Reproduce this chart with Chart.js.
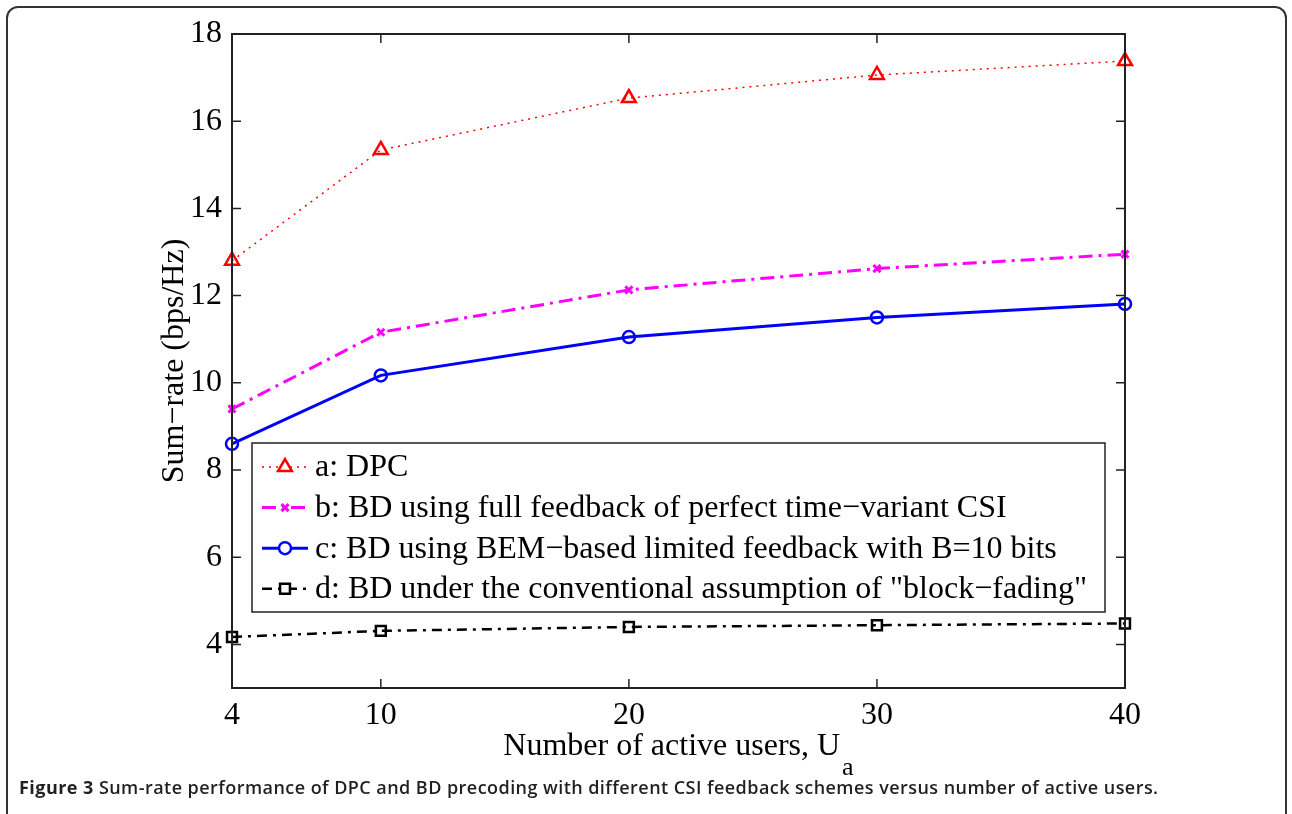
<!DOCTYPE html>
<html>
<head>
<meta charset="utf-8">
<script src="https://cdn.jsdelivr.net/npm/chart.js@4.4.0/dist/chart.umd.min.js"></script>
<style>
  html, body { margin: 0; padding: 0; background: #fff; overflow: hidden; }
  #wrap { position: absolute; left: 0; top: 0; width: 1292px; height: 814px; }
  #frame {
    position: absolute; left: 6px; top: 6px; width: 1281px; height: 820px;
    border: 2px solid #333; border-radius: 12px; box-sizing: border-box;
  }
  #caption {
    position: absolute; left: 19px; top: 775px; white-space: nowrap; line-height: 24px;
    font-family: "Open Sans", sans-serif; font-size: 18px; font-weight: 600; color: #231f20;
    letter-spacing: 0.45px;
  }
  #caption b { font-weight: 700; }
</style>
</head>
<body>
<div id="wrap">
  <canvas id="sumrate" width="1292" height="814"></canvas>
  <div id="frame"></div>
  <div id="caption"><b>Figure 3</b> Sum-rate performance of DPC and BD precoding with different CSI feedback schemes versus number of active users.</div>
</div>
<script>
// data
var users = [4, 10, 20, 30, 40];
var dpc = [12.8, 15.34, 16.53, 17.06, 17.38];
var bdFull = [9.4, 11.16, 12.13, 12.62, 12.95];
var bdBem = [8.6, 10.17, 11.05, 11.5, 11.81];
var bdBlock = [4.17, 4.31, 4.4, 4.44, 4.48];
var xTicks = [4, 10, 20, 30, 40];
var yTicks = [4, 6, 8, 10, 12, 14, 16, 18];
var labels = [
    'a: DPC',
    'b: BD using full feedback of perfect time\u2212variant CSI',
    'c: BD using BEM\u2212based limited feedback with B=10 bits',
    'd: BD under the conventional assumption of "block\u2212fading"'
];

var serif = '"Liberation Serif", "Times New Roman", serif';

function pts(ys) {
    return users.map(function(u, i) { return { x: u, y: ys[i] }; });
}

var datasets = [
    { label: labels[0], data: pts(dpc), borderColor: '#ff0000', borderWidth: 1.5, borderDash: [2, 5],
      pointStyle: 'triangle', pointRadius: 8, pointBorderWidth: 2.5 },
    { label: labels[1], data: pts(bdFull), borderColor: '#ff00ff', borderWidth: 3, borderDash: [14, 6, 3, 6],
      pointStyle: 'crossRot', pointRadius: 5, pointBorderWidth: 3 },
    { label: labels[2], data: pts(bdBem), borderColor: '#0000ff', borderWidth: 3,
      pointStyle: 'circle', pointRadius: 6, pointBorderWidth: 2.5 },
    { label: labels[3], data: pts(bdBlock), borderColor: '#000000', borderWidth: 2.5, borderDash: [10, 6, 3, 6],
      pointStyle: 'rect', pointRadius: 7, pointBorderWidth: 2.5 }
];
datasets.forEach(function(d) {
    d.backgroundColor = 'rgba(0,0,0,0)';
    d.pointBackgroundColor = 'rgba(255,255,255,0)';
    d.pointBorderColor = d.borderColor;
    d.fill = false;
    d.tension = 0;
    d.clip = false;
});

// box, inward ticks, axis titles and legend
var matlabLook = {
    id: 'matlabLook',
    afterDraw: function(chart) {
        var ctx = chart.ctx;
        var a = chart.chartArea;
        var xs = chart.scales.x, ys = chart.scales.y;
        ctx.save();
        ctx.strokeStyle = '#222';
        ctx.lineWidth = 2;
        ctx.strokeRect(a.left, a.top, a.right - a.left, a.bottom - a.top);
        ctx.lineWidth = 1.5;
        ctx.beginPath();
        xTicks.forEach(function(v) {
            var px = xs.getPixelForValue(v);
            ctx.moveTo(px, a.bottom); ctx.lineTo(px, a.bottom - 9);
            ctx.moveTo(px, a.top); ctx.lineTo(px, a.top + 9);
        });
        yTicks.forEach(function(v) {
            var py = ys.getPixelForValue(v);
            ctx.moveTo(a.left, py); ctx.lineTo(a.left + 9, py);
            ctx.moveTo(a.right, py); ctx.lineTo(a.right - 9, py);
        });
        ctx.stroke();

        // axis titles
        ctx.fillStyle = '#000';
        ctx.font = '32px ' + serif;
        ctx.textBaseline = 'alphabetic';
        var main = 'Number of active users, U';
        var wMain = ctx.measureText(main).width;
        ctx.font = '26px ' + serif;
        var wSub = ctx.measureText('a').width;
        var x0 = (a.left + a.right) / 2 - (wMain + wSub + 2) / 2;
        ctx.font = '32px ' + serif;
        ctx.textAlign = 'left';
        ctx.fillText(main, x0, 755);
        ctx.font = '26px ' + serif;
        ctx.fillText('a', x0 + wMain + 2, 775);

        ctx.font = '32px ' + serif;
        ctx.translate(183, (a.top + a.bottom) / 2);
        ctx.rotate(-Math.PI / 2);
        ctx.textAlign = 'center';
        ctx.fillText('Sum\u2212rate (bps/Hz)', 0, 0);
        ctx.restore();

        // legend box inside the axes
        ctx.save();
        var lx = a.left + 20, ly = 443, lw = 853, lh = 169;
        ctx.fillStyle = '#fff';
        ctx.fillRect(lx, ly, lw, lh);
        ctx.strokeStyle = '#222';
        ctx.lineWidth = 1.5;
        ctx.strokeRect(lx, ly, lw, lh);
        chart.data.datasets.forEach(function(d, i) {
            var cy = ly + 24 + i * 40.6;
            ctx.save();
            ctx.strokeStyle = d.borderColor;
            ctx.lineWidth = d.borderWidth;
            ctx.setLineDash(d.borderDash || []);
            ctx.beginPath();
            ctx.moveTo(lx + 10, cy);
            ctx.lineTo(lx + 56, cy);
            ctx.stroke();
            ctx.setLineDash([]);
            ctx.lineWidth = d.pointBorderWidth;
            ctx.fillStyle = '#fff';
            Chart.helpers.drawPoint(ctx, {
                pointStyle: d.pointStyle, radius: d.pointRadius, rotation: 0, borderWidth: d.pointBorderWidth
            }, lx + 33, cy);
            ctx.restore();
            ctx.fillStyle = '#000';
            ctx.font = '32px ' + serif;
            ctx.textAlign = 'left';
            ctx.textBaseline = 'middle';
            ctx.fillText(d.label, lx + 63, cy + 1);
        });
        ctx.restore();
    }
};

new Chart(document.getElementById('sumrate').getContext('2d'), {
    type: 'line',
    data: { datasets: datasets },
    options: {
        responsive: false,
        animation: false,
        layout: { padding: { left: 0, top: 34, right: 167, bottom: 0 } },
        plugins: { legend: { display: false }, tooltip: { enabled: false } },
        scales: {
            x: {
                type: 'linear', min: 4, max: 40,
                afterBuildTicks: function(s) { s.ticks = xTicks.map(function(v) { return { value: v }; }); },
                afterFit: function(s) { s.height = 126; },
                grid: { display: false, drawTicks: false },
                border: { display: false },
                ticks: { color: '#000', padding: 8, font: { family: serif, size: 32 }, maxRotation: 0 }
            },
            y: {
                min: 3, max: 18,
                afterBuildTicks: function(s) { s.ticks = yTicks.map(function(v) { return { value: v }; }); },
                afterFit: function(s) { s.width = 232; },
                grid: { display: false, drawTicks: false },
                border: { display: false },
                ticks: { color: '#000', padding: 10, font: { family: serif, size: 32 } }
            }
        }
    },
    plugins: [matlabLook]
});
</script>
</body>
</html>
